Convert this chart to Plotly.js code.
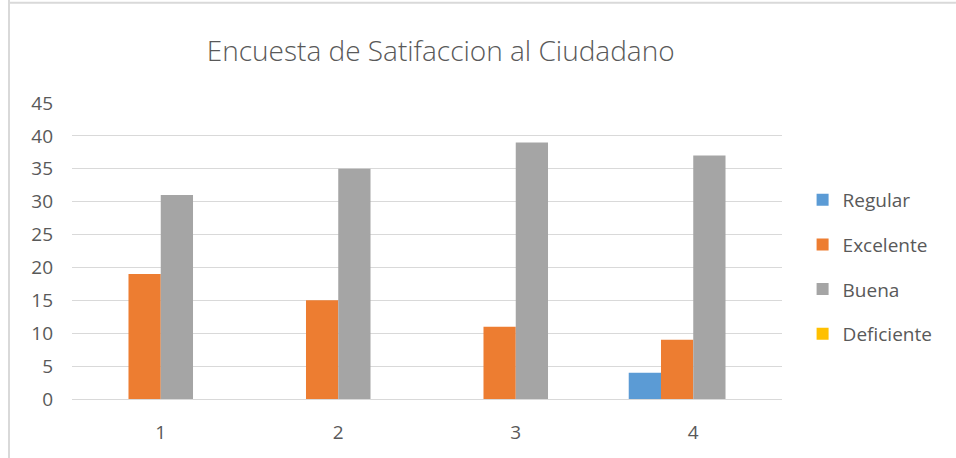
<!DOCTYPE html>
<html>
<head>
<meta charset="utf-8">
<script src="https://cdn.plot.ly/plotly-3.0.1.min.js"></script>
<style>html,body{margin:0;padding:0;background:#fff;}#chart{width:956px;height:458px;}</style>
</head>
<body>
<div id="chart"></div>
<script>
const categories = ['1', '2', '3', '4'];
const seriesNames = ['Regular', 'Excelente', 'Buena', 'Deficiente'];
const regular = [0, 0, 0, 4];
const excelente = [19, 15, 11, 9];
const buena = [31, 35, 39, 37];
const deficiente = [0, 0, 0, 0];
const yTicks = [0, 5, 10, 15, 20, 25, 30, 35, 40, 45];
const colors = ['#5B9BD5', '#ED7D31', '#A5A5A5', '#FFC000'];
const values = [regular, excelente, buena, deficiente];

const traces = values.map((v, i) => ({
  type: 'bar',
  name: seriesNames[i],
  x: categories,
  y: v,
  marker: {color: colors[i]},
  legendgroup: 'g' + i,
  hoverinfo: 'skip'
}));

const font = '"Open Sans", "Noto Sans", sans-serif';
const layout = {
  width: 956, height: 458,
  paper_bgcolor: '#fff', plot_bgcolor: '#fff',
  margin: {l: 72, r: 174, t: 103, b: 59},
  barmode: 'group',
  bargap: 0.273,
  bargroupgap: 0,
  title: {
    text: 'Encuesta de Satifaccion al Ciudadano',
    font: {family: font, size: 28, color: '#595959', weight: 300},
    x: 0.461, xanchor: 'center', y: 0.888, yanchor: 'middle'
  },
  xaxis: {
    type: 'category',
    showgrid: false, zeroline: false, showline: false,
    ticks: '', ticklen: 0,
    tickfont: {family: font, size: 19, color: '#595959'},
    ticklabelstandoff: 20,
    automargin: false
  },
  yaxis: {
    range: [0, 45],
    tickvals: yTicks,
    showgrid: true, gridcolor: '#D9D9D9', gridwidth: 1,
    zeroline: true, zerolinecolor: '#D9D9D9', zerolinewidth: 1,
    showline: false, ticks: '',
    tickfont: {family: font, size: 19, color: '#595959'},
    ticklabelstandoff: 18,
    automargin: false
  },
  showlegend: true,
  legend: {
    x: 1.029, xanchor: 'left', y: 0.737, yanchor: 'top',
    traceorder: 'grouped', tracegroupgap: 17,
    font: {family: font, size: 19, color: '#595959'},
    bgcolor: 'rgba(0,0,0,0)'
  },
  shapes: [
    {type: 'line', xref: 'paper', yref: 'paper', x0: -0.0887, x1: -0.0887, y0: -0.2, y1: 1.35,
     line: {color: '#D9D9D9', width: 2}},
    {type: 'line', xref: 'paper', yref: 'paper', x0: -0.0887, x1: 1.245, y0: 1.339, y1: 1.339,
     line: {color: '#D9D9D9', width: 2}}
  ]
};

Plotly.newPlot('chart', traces, layout, {displayModeBar: false, staticPlot: true});
</script>
</body>
</html>
